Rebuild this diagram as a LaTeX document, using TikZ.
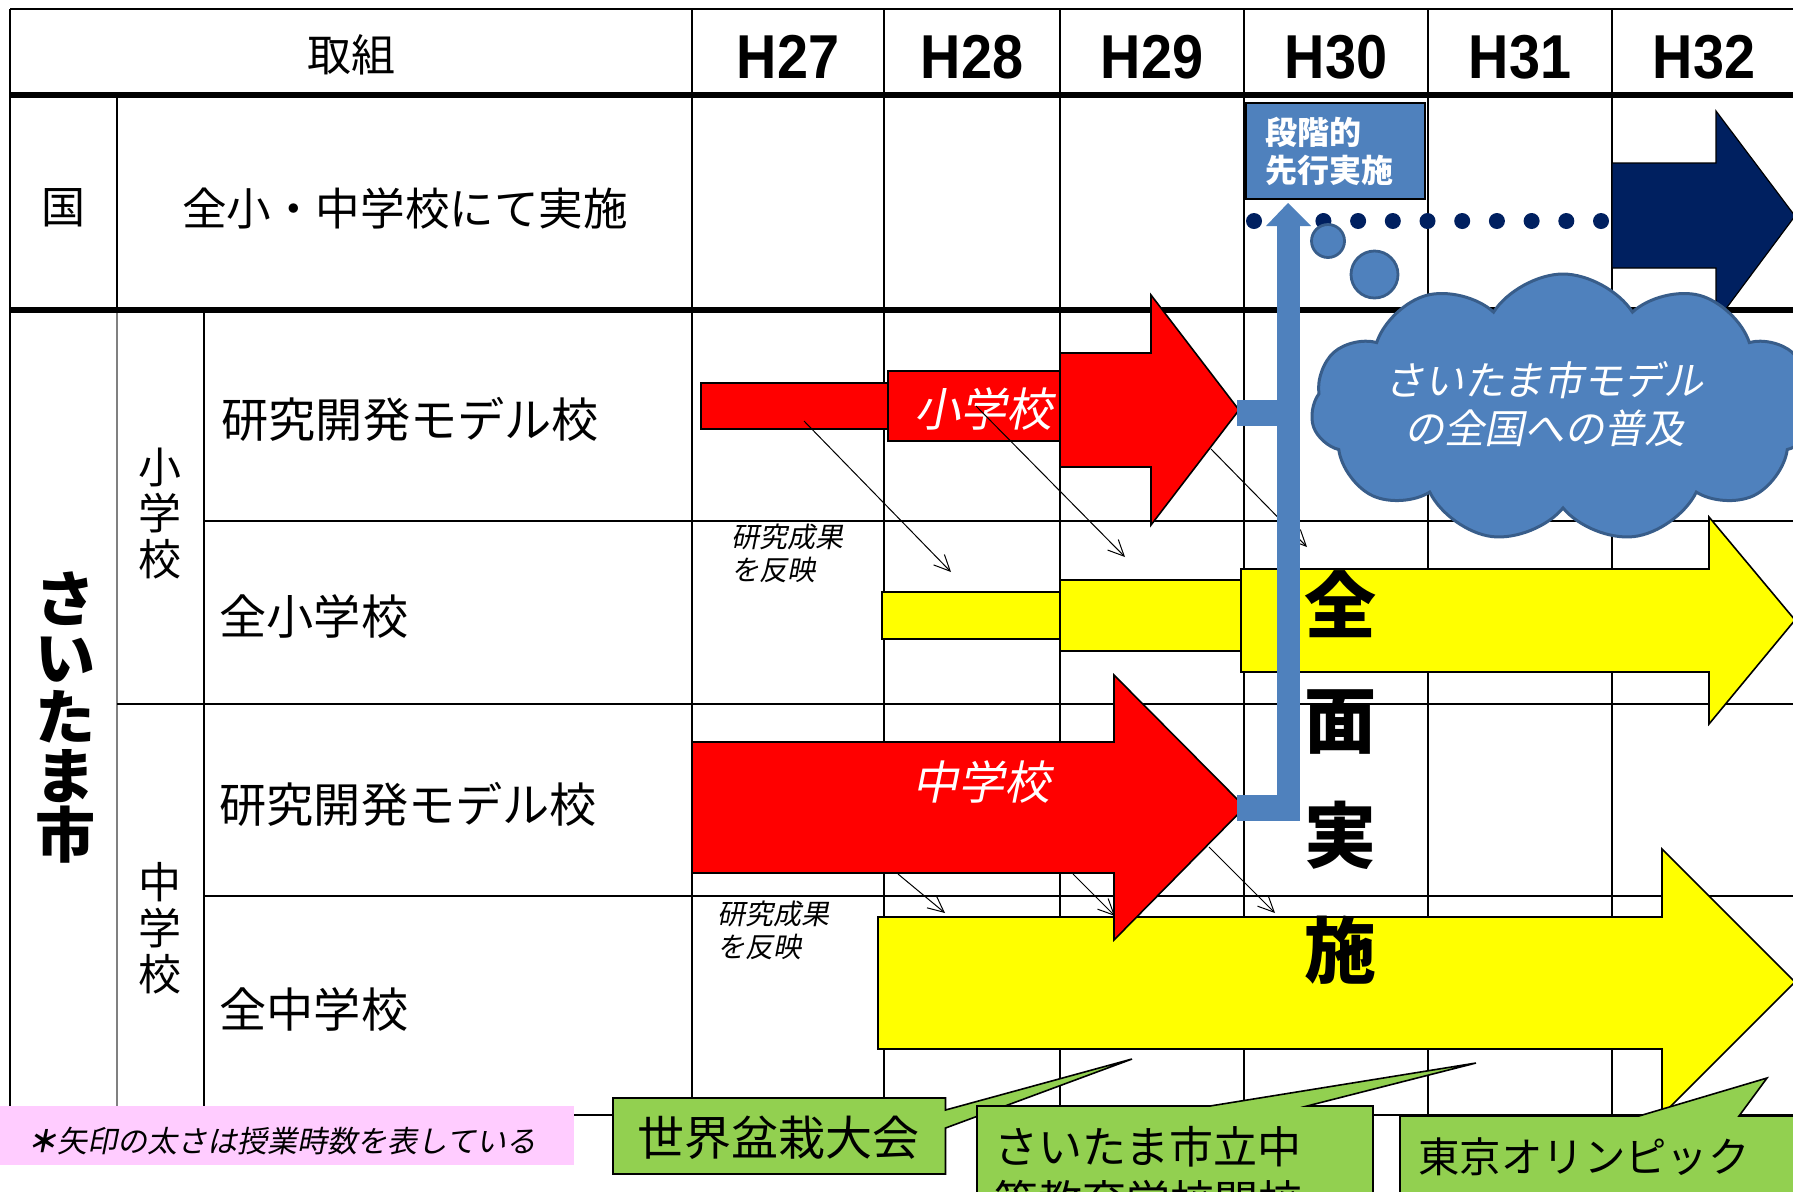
\documentclass[tikz,border=0pt]{standalone}
\usepackage{fontspec}
\setmainfont{Noto Sans CJK JP}
\newfontfamily\jp{Noto Sans CJK JP}
\newfontfamily\jpit[FakeSlant=0.2]{Noto Sans CJK JP}
\newfontfamily\yearfont[FakeStretch=0.9]{Liberation Sans}
\usetikzlibrary{shapes.symbols,arrows.meta}
\definecolor{redA}{HTML}{FF0000}
\definecolor{yelA}{HTML}{FFFF00}
\definecolor{steel}{HTML}{4F81BD}
\definecolor{steeldark}{HTML}{385D8A}
\definecolor{navyA}{HTML}{002060}
\definecolor{greenA}{HTML}{92D050}
\definecolor{pinkA}{HTML}{FFCCFF}
\newcommand{\fsz}[2]{\fontsize{#1}{#2}\selectfont}
\begin{document}
\begin{tikzpicture}[x=0.5pt,y=-0.5pt,
  gridline/.style={line width=0.7pt},
  thickline/.style={line width=2.8pt},
  outlined/.style={draw=black,line width=0.8pt,line join=miter},
  reflect/.style={-{Straight Barb[length=8pt,width=7.5pt]},line width=0.5pt},
  txt/.style={inner sep=0pt},
  rowtxt/.style={txt,anchor=west,font=\jp\fsz{23.6pt}{24pt}},
  yr/.style={txt,font=\yearfont\bfseries\fsz{31pt}{31pt}},
]
\useasboundingbox (0,0) rectangle (1793,1191);
\clip (0,0) rectangle (1793,1191);
\fill[white] (0,0) rectangle (1793,1191);

% ---------- grid ----------
\draw[gridline] (10,9) -- (1800,9);
\draw[gridline] (10,9) -- (10,1106);
\draw[gridline] (117,95) -- (117,310);
\draw[gridline,gray] (117,310) -- (117,1106);
\draw[gridline] (204,310) -- (204,1106);
\foreach \cx in {692,884,1060,1244,1428,1612}{\draw[gridline] (\cx,9) -- (\cx,1115);}
\draw[gridline] (204,521) -- (1800,521);
\draw[gridline] (117,704) -- (1800,704);
\draw[gridline] (204,896) -- (1800,896);
\draw[gridline] (10,1115) -- (1800,1115);
\draw[thickline] (10,95) -- (1800,95);
\draw[thickline] (10,310) -- (1800,310);

% ---------- table texts ----------
\node[txt,font=\jp\fsz{22pt}{22pt}] (torikumi) at (351,55) {取組};
\node[yr] (h27) at (788,57) {H27};
\node[yr] (h28) at (972,57) {H28};
\node[yr] (h29) at (1152,57) {H29};
\node[yr] (h30) at (1336,57) {H30};
\node[yr] (h31) at (1520,57) {H31};
\node[yr] (h32) at (1704,57) {H32};
\node[txt,font=\jp\fsz{22pt}{22pt}] (kuni) at (63,208) {国};
\node[txt,font=\jp\fsz{22.3pt}{22pt}] (zenkoku) at (405,208) {全小・中学校にて実施};
\node[rowtxt] (r1) at (221,419) {研究開発モデル校};
\node[rowtxt] (r2) at (219,616) {全小学校};
\node[rowtxt] (r3) at (219,804) {研究開発モデル校};
\node[rowtxt] (r4) at (219,1009) {全中学校};
\node[txt,align=center,font=\jp\fsz{21.5pt}{23pt}] (sho) at (160,514) {小\\学\\校};
\node[txt,align=center,font=\jp\fsz{21.5pt}{23pt}] (chu) at (160,928) {中\\学\\校};
\node[txt,align=center,font=\jp\bfseries\fsz{30pt}{29.5pt}] (saitama) at (65,717) {さ\\い\\た\\ま\\市};

% ---------- yellow arrows ----------
\filldraw[fill=yelA,outlined] (882,592) rectangle (1060,639);
\filldraw[fill=yelA,outlined] (1060,580) rectangle (1241,651);
\filldraw[fill=yelA,outlined] (1241,569) -- (1709,569) -- (1709,517) -- (1795,620)
  -- (1709,724) -- (1709,672) -- (1241,672) -- cycle;
\filldraw[fill=yelA,outlined] (878,917) -- (1662,917) -- (1662,849) -- (1795,982)
  -- (1662,1115) -- (1662,1049) -- (878,1049) -- cycle;

% ---------- red arrow (elementary) ----------
\filldraw[fill=redA,outlined] (701,383) rectangle (888,429);
\filldraw[fill=redA,outlined] (888,371) rectangle (1060,441);
\filldraw[fill=redA,outlined] (1060,353) -- (1151,353) -- (1151,295) -- (1239,410)
  -- (1151,525) -- (1151,467) -- (1060,467) -- cycle;
\node[txt,text=white,font=\jpit\fsz{23pt}{23pt}] (redsho) at (983,409) {小学校};

% ---------- reflect arrows ----------
\coordinate (a1) at (804,421); \coordinate (a2) at (951,572);
\coordinate (b1) at (976,406); \coordinate (b2) at (1125,557);
\coordinate (c1) at (1211,449); \coordinate (c2) at (1307,547);
\coordinate (d1) at (898,874); \coordinate (d2) at (945,913);
\coordinate (e1) at (1073,874); \coordinate (e2) at (1115,916);
\coordinate (f1) at (1209,847); \coordinate (f2) at (1275,913);
\draw[reflect] (a1) -- (a2);
\draw[reflect] (b1) -- (b2);
\draw[reflect] (c1) -- (c2);
\draw[reflect] (d1) -- (d2);
\draw[reflect] (e1) -- (e2);
\draw[reflect] (f1) -- (f2);
\node[txt,anchor=west,align=left,font=\jpit\fsz{14pt}{16.5pt}] (kenkyu1) at (731,553) {研究成果\\を反映};
\node[txt,anchor=west,align=left,font=\jpit\fsz{14pt}{16.5pt}] (kenkyu2) at (717,930) {研究成果\\を反映};

% ---------- red arrow (junior high) ----------
\filldraw[fill=redA,outlined] (692,742) -- (1114,742) -- (1114,675) -- (1245,807)
  -- (1114,940) -- (1114,873) -- (692,873) -- cycle;
\node[txt,text=white,font=\jpit\fsz{23pt}{23pt}] (redchu) at (981,782) {中学校};

% ---------- dotted line ----------
\foreach \i in {0,...,10}{\fill[navyA] (1254+34.7*\i,221) circle (4pt);}

% ---------- blue connector ----------
\fill[steel] (1277,226) rectangle (1300,821);
\fill[steel] (1237,400) rectangle (1277,426);
\fill[steel] (1237,795) rectangle (1277,821);
\fill[steel] (1266,226) -- (1288,203) -- (1311,226) -- cycle;

% ---------- 全面実施 ----------
\node[txt,align=center,font=\jp\bfseries\fsz{36pt}{57.5pt}] (zenmen) at (1340,777) {全\\面\\実\\施};

% ---------- navy arrow ----------
\filldraw[fill=navyA,draw=black,line width=0.6pt] (1612,163) -- (1716,163) -- (1716,111) -- (1795,216)
  -- (1716,322) -- (1716,268) -- (1612,268) -- cycle;

% ---------- cloud ----------
\filldraw[fill=steel,draw=steeldark,line width=1.4pt] (1328,241) circle (8.25pt);
\filldraw[fill=steel,draw=steeldark,line width=1.4pt] (1374.5,274.5) circle (11.75pt);
\node[cloud,cloud puffs=11,cloud puff arc=115,cloud ignores aspect,fill=steel,draw=steeldark,line width=1.5pt,
  minimum width=252pt,minimum height=134pt,inner sep=0pt] (cloud) at (1563,408) {};
\node[txt,align=center,text=white,font=\jpit\fsz{20pt}{24pt}] (cloudtxt) at (1544,404) {さいたま市モデル\\の全国への普及};

% ---------- 段階的先行実施 ----------
\node[outlined,fill=steel,minimum width=89.5pt,minimum height=48pt,inner sep=0pt] (dankai) at (1335.5,151) {};
\node[txt,anchor=west,align=left,text=white,font=\jp\bfseries\fsz{16pt}{19pt}] (dankaitxt) at (1265,151) {段階的\\先行実施};

% ---------- green callouts ----------
\filldraw[fill=greenA,outlined] (613,1098) -- (945.5,1098) -- (945.5,1110) -- (1132,1059)
  -- (945.5,1128) -- (945.5,1174) -- (613,1174) -- cycle;
\node[txt,font=\jp\fsz{23.5pt}{24pt}] (bonsai) at (778,1138) {世界盆栽大会};
\filldraw[fill=greenA,outlined] (977,1106) -- (1210,1106) -- (1476,1063) -- (1307,1106)
  -- (1373,1106) -- (1373,1260) -- (977,1260) -- cycle;
\node[txt,anchor=west,font=\jp\fsz{22pt}{22pt}] (chuto1) at (994,1147) {さいたま市立中};
\node[txt,anchor=west,font=\jp\fsz{22pt}{22pt}] (chuto2) at (994,1201) {等教育学校開校};
\filldraw[fill=greenA,outlined] (1400,1116) -- (1639,1116) -- (1767,1078) -- (1739,1116)
  -- (1850,1116) -- (1850,1260) -- (1400,1260) -- cycle;
\node[txt,anchor=west,font=\jp\fsz{20.7pt}{21pt}] (olympic) at (1418,1157) {東京オリンピック};

% ---------- pink note ----------
\fill[pinkA] (0,1106) rectangle (574,1165);
\node[txt,anchor=west,font=\jpit\fsz{15pt}{15pt}] (note) at (27,1141) {{\bfseries ＊}矢印の太さは授業時数を表している};
\end{tikzpicture}
\end{document}
